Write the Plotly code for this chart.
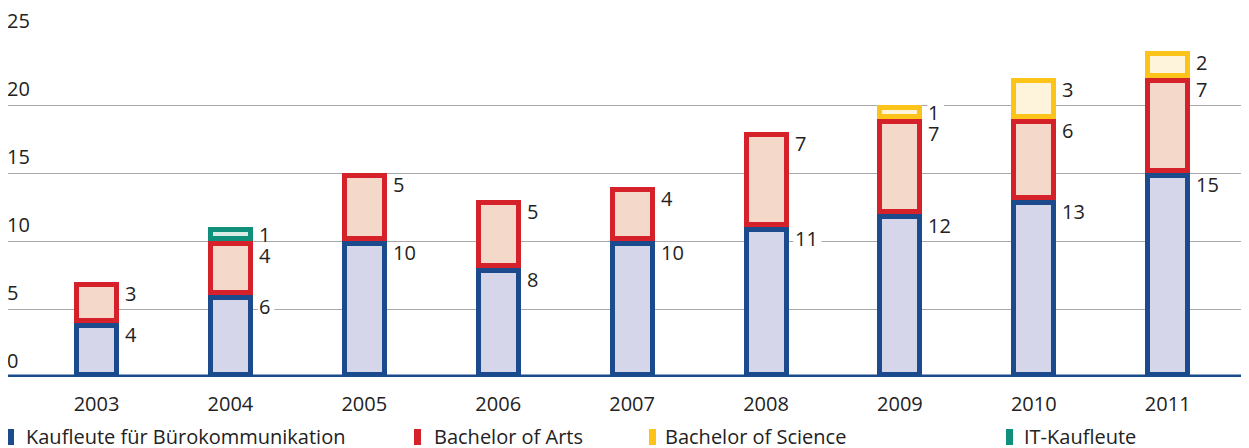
import plotly.graph_objects as go

years = [2003, 2004, 2005, 2006, 2007, 2008, 2009, 2010, 2011]
kaufleute = [4, 6, 10, 8, 10, 11, 12, 13, 15]
bachelor_arts = [3, 4, 5, 5, 4, 7, 7, 6, 7]
bachelor_science = [0, 0, 0, 0, 0, 0, 1, 3, 2]
it_kaufleute = [0, 1, 0, 0, 0, 0, 0, 0, 0]
y_ticks = [0, 5, 10, 15, 20, 25]

series = [
    ("Kaufleute für Bürokommunikation", kaufleute, "#1b4b8d", "#d5d6ea"),
    ("Bachelor of Arts", bachelor_arts, "#d52129", "#f4d8c9"),
    ("Bachelor of Science", bachelor_science, "#fcc419", "#fef3db"),
    ("IT-Kaufleute", it_kaufleute, "#10907a", "#d6ece5"),
]

# page body has an 8px margin; work in window pixels
OFF = 8
WIN_W, WIN_H = 1249, 448
W, H = WIN_W - OFF, WIN_H - OFF
plot_top_win, plot_bot_win = 37, 377
ML, MR = 0, 0
MT = plot_top_win - OFF
plot_h = plot_bot_win - plot_top_win
MB = H - MT - plot_h
plot_w = W - ML - MR
y_max = 25
px_per_x = 133.9
center0_win = 96.5
left_win = OFF + ML
x_range = [years[0] - (center0_win - left_win) / px_per_x,
           years[0] + (left_win + plot_w - center0_win) / px_per_x]
px_per_y = plot_h / y_max

stroke = 5
outer_px = 45
outer_w = outer_px / px_per_x
inner_w = (outer_px - 2 * stroke) / px_per_x
inset_y = stroke / px_per_y

FONT = "Open Sans"
TXT = "#222222"
FS = 20
DIGIT_W = 11.5
GLYPH_H = 14.5


def paper_x(win_x):
    return (win_x - left_win) / plot_w


def paper_y(win_y):
    return (plot_bot_win - win_y) / plot_h


fig = go.Figure()
annotations = []
shapes = []
label_info = []  # (year index, top value, text)
cum = [0] * len(years)
for name, vals, border, fill in series:
    ys_o, base_o, ys_i, base_i = [], [], [], []
    for i, v in enumerate(vals):
        if v > 0:
            ys_o.append(v); base_o.append(cum[i])
            ys_i.append(v - 2 * inset_y); base_i.append(cum[i] + inset_y)
            label_info.append((i, cum[i] + v, str(v)))
        else:
            ys_o.append(None); base_o.append(cum[i])
            ys_i.append(None); base_i.append(cum[i])
    fig.add_trace(go.Bar(x=years, y=ys_o, base=base_o, width=outer_w,
                         marker=dict(color=border, line=dict(width=0)),
                         name=name, showlegend=False, hoverinfo="skip"))
    fig.add_trace(go.Bar(x=years, y=ys_i, base=base_i, width=inner_w,
                         marker=dict(color=fill, line=dict(width=0)),
                         name=name, showlegend=False, hoverinfo="skip"))
    cum = [c + v for c, v in zip(cum, vals)]

# value labels: glyph top ~2px below segment top, avoid collisions within a bar
by_year = {}
for i, top, txt in label_info:
    by_year.setdefault(i, []).append([top, txt, -2.0])  # pixel offset (up positive)
MIN_GAP = 21
for i, lst in by_year.items():
    lst.sort(key=lambda e: e[0])
    for k in range(1, len(lst)):
        below, cur = lst[k - 1], lst[k]
        below_pos = below[0] * px_per_y + below[2]
        cur_pos = cur[0] * px_per_y + cur[2]
        need = MIN_GAP - (cur_pos - below_pos)
        if need > 0:
            cur[2] += need * 0.6
            below[2] -= need * 0.4

for i, lst in by_year.items():
    for top, txt, shift in lst:
        x0 = outer_px / 2 + 7
        shapes.append(dict(type="rect", xref="x", yref="y",
                           xsizemode="pixel", ysizemode="pixel",
                           xanchor=years[i], yanchor=top,
                           x0=x0 - 2, x1=x0 + len(txt) * DIGIT_W + 3,
                           y0=shift + 1, y1=shift - GLYPH_H - 1,
                           fillcolor="white", line=dict(width=0), layer="between"))
        annotations.append(dict(
            x=years[i], y=top, xref="x", yref="y", text=txt,
            showarrow=False, xanchor="left", yanchor="top",
            xshift=x0 - 3, yshift=shift + 6,
            font=dict(family=FONT, size=FS, color=TXT),
        ))

# y tick labels above gridlines (inside plot, left)
for t in y_ticks:
    annotations.append(dict(
        x=0, xref="paper", y=t, yref="y", text=str(t), showarrow=False,
        xanchor="left", yanchor="bottom", yshift=1, xshift=-3,
        font=dict(family=FONT, size=FS, color=TXT),
    ))

# legend (manual)
legend_items = [
    (series[0][0], series[0][2], 7, 27),
    (series[1][0], series[1][2], 414, 435),
    (series[2][0], series[2][2], 649, 666),
    (series[3][0], series[3][2], 1006, 1025),
]
ly_c = 436
for name, col, mx, tx in legend_items:
    shapes.append(dict(type="rect", xref="paper", yref="paper",
                       x0=paper_x(mx), x1=paper_x(mx + 7),
                       y0=paper_y(ly_c + 9), y1=paper_y(ly_c - 7),
                       fillcolor=col, line=dict(width=0), layer="above"))
    annotations.append(dict(
        x=paper_x(tx), xref="paper", y=paper_y(ly_c), yref="paper",
        text=name, showarrow=False, xanchor="left", yanchor="middle", xshift=-3,
        font=dict(family=FONT, size=FS, color=TXT),
    ))

# zero line
shapes.append(dict(type="line", xref="paper", yref="y", x0=0, x1=1, y0=0, y1=0,
                   line=dict(color="#1b4b8d", width=5), layer="above"))

fig.update_layout(
    width=W, height=H,
    margin=dict(l=ML, r=MR, t=MT, b=MB, pad=0),
    paper_bgcolor="white", plot_bgcolor="white",
    barmode="overlay", bargap=0,
    showlegend=False,
    annotations=annotations, shapes=shapes,
    font=dict(family=FONT, size=FS, color=TXT),
)
fig.update_xaxes(range=x_range, tickvals=years, ticktext=[str(y) for y in years],
                 showgrid=False, zeroline=False, showline=False, ticks="",
                 tickfont=dict(family=FONT, size=FS, color=TXT), ticklabelstandoff=13)
fig.update_yaxes(range=[0, y_max], tickvals=y_ticks, showticklabels=False,
                 showgrid=True, gridcolor="#a9a9a9", gridwidth=1.3,
                 zeroline=False, showline=False, ticks="")

fig.write_html("out.html")
